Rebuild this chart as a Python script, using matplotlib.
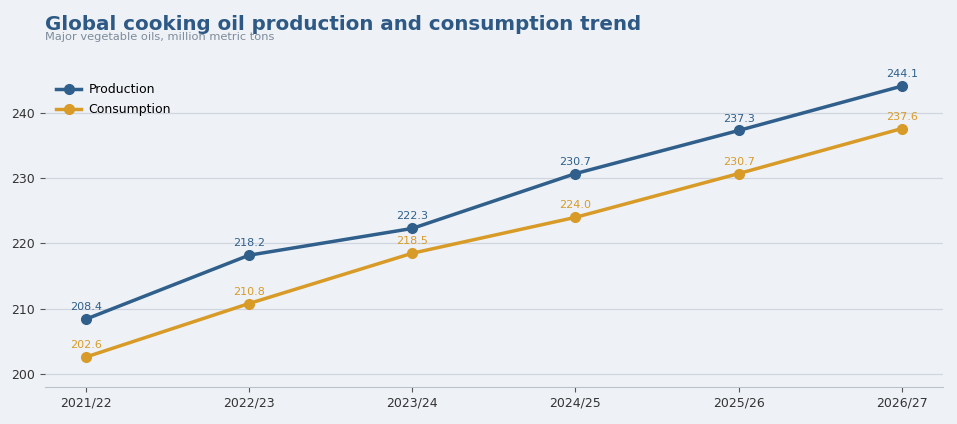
from matplotlib import pyplot as plt

seasons = ['2021/22', '2022/23', '2023/24', '2024/25', '2025/26', '2026/27']
production = [208.4, 218.2, 222.3, 230.7, 237.3, 244.1]
consumption = [202.6, 210.8, 218.5, 224.0, 230.7, 237.6]

bg = '#eef2f7'
prod_color = '#2f5f8a'
cons_color = '#d89b28'

fig = plt.figure(figsize=[9.57, 4.24], dpi=100, facecolor=bg)
ax = fig.add_axes([0.047, 0.087, 0.938, 0.77])
ax.set_facecolor(bg)

x = list(range(len(seasons)))
ax.plot(x, production, color=prod_color, lw=2.5, marker='o', ms=7, label='Production')
ax.plot(x, consumption, color=cons_color, lw=2.5, marker='o', ms=7, label='Consumption')

for xi, v in zip(x, production):
    ax.annotate('{:.1f}'.format(v), (xi, v), xytext=(0, 5), textcoords='offset points',
                ha='center', va='bottom', fontsize=8, color=prod_color)
for xi, v in zip(x, consumption):
    ax.annotate('{:.1f}'.format(v), (xi, v), xytext=(0, 5), textcoords='offset points',
                ha='center', va='bottom', fontsize=8, color=cons_color)

ax.set_xticks(x)
ax.set_xticklabels(seasons)
ax.set_xlim(-0.25, 5.25)
ax.set_ylim(198, 248)
ax.set_yticks([200, 210, 220, 230, 240])
ax.grid(axis='y', color='#cfd6df', lw=0.9)
ax.set_axisbelow(True)
for s in ['top', 'right', 'left']:
    ax.spines[s].set_visible(False)
ax.spines['bottom'].set_color('#b8c2cc')
ax.tick_params(colors='#333333', labelsize=9)
ax.tick_params(axis='both', color='#555555')

ax.legend(loc='upper left', frameon=False, fontsize=9, bbox_to_anchor=(0.0, 0.965),
          handletextpad=0.6, labelspacing=0.55)

fig.text(0.047, 0.92, 'Global cooking oil production and consumption trend',
         fontsize=14.3, fontweight='bold', color='#2e5984', va='bottom')
fig.text(0.047, 0.902, 'Major vegetable oils, million metric tons',
         fontsize=8.2, color='#7d8b99', va='bottom')

plt.savefig('out.png', facecolor=bg)
